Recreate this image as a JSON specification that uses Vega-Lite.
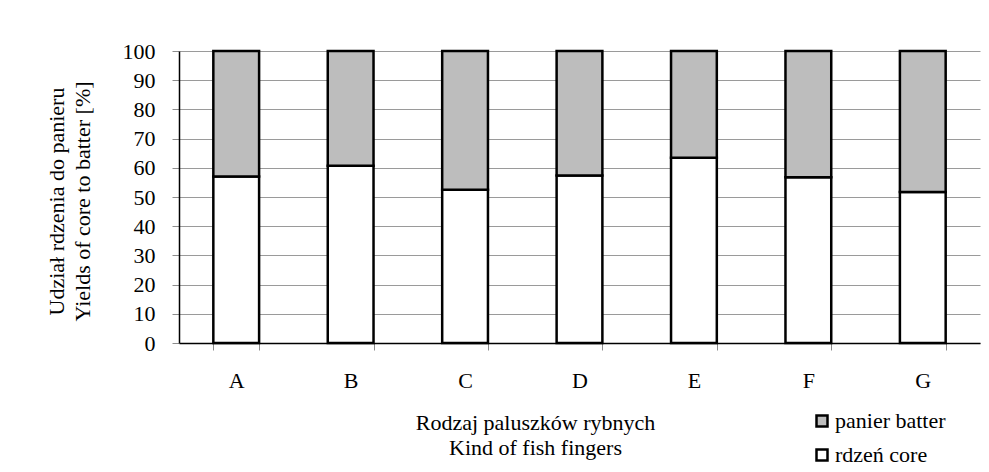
{
  "$schema": "https://vega.github.io/schema/vega-lite/v6.json",
  "width": 801,
  "height": 292,
  "autosize": {"type": "none"},
  "padding": {"left": 179, "top": 51, "right": 9, "bottom": 129},
  "background": "white",
  "data": {
    "values": [
      {"kind": "A", "part": "rdzeń core", "value": 57.0},
      {"kind": "A", "part": "panier batter", "value": 43.0},
      {"kind": "B", "part": "rdzeń core", "value": 60.7},
      {"kind": "B", "part": "panier batter", "value": 39.3},
      {"kind": "C", "part": "rdzeń core", "value": 52.5},
      {"kind": "C", "part": "panier batter", "value": 47.5},
      {"kind": "D", "part": "rdzeń core", "value": 57.4},
      {"kind": "D", "part": "panier batter", "value": 42.6},
      {"kind": "E", "part": "rdzeń core", "value": 63.4},
      {"kind": "E", "part": "panier batter", "value": 36.6},
      {"kind": "F", "part": "rdzeń core", "value": 56.8},
      {"kind": "F", "part": "panier batter", "value": 43.2},
      {"kind": "G", "part": "rdzeń core", "value": 51.7},
      {"kind": "G", "part": "panier batter", "value": 48.3}
    ]
  },
  "mark": {"type": "bar", "stroke": "black", "strokeWidth": 2.5},
  "encoding": {
    "x": {
      "field": "kind",
      "type": "nominal",
      "scale": {"paddingInner": 0.6, "paddingOuter": 0.3},
      "axis": {
        "title": ["Rodzaj paluszków rybnych", "Kind of fish fingers"],
        "labelAngle": 0,
        "tickBand": "extent",
        "tickColor": "#8c8c8c",
        "tickSize": 7,
        "domainColor": "black",
        "domainWidth": 1.5,
        "labelPadding": 20,
        "titleX": 356,
        "titleY": 86,
        "titleAnchor": "middle",
        "titleAlign": "center",
        "titleBaseline": "alphabetic",
        "titleLineHeight": 25
      }
    },
    "y": {
      "field": "value",
      "type": "quantitative",
      "stack": "zero",
      "scale": {"domain": [0, 100], "nice": false},
      "axis": {
        "title": ["Udział rdzenia do panieru", "Yields of core to batter [%]"],
        "values": [0, 10, 20, 30, 40, 50, 60, 70, 80, 90, 100],
        "grid": true,
        "gridColor": "#9a9a9a",
        "gridWidth": 1,
        "tickColor": "#8c8c8c",
        "tickSize": 7,
        "domainColor": "black",
        "domainWidth": 1.5,
        "labelPadding": 17,
        "titleX": -116,
        "titleY": 150,
        "titleAngle": -90,
        "titleAlign": "center",
        "titleBaseline": "alphabetic",
        "titleLineHeight": 26
      }
    },
    "color": {
      "field": "part",
      "type": "nominal",
      "scale": {"domain": ["panier batter", "rdzeń core"], "range": ["#bdbdbd", "#ffffff"]},
      "legend": {
        "title": null,
        "orient": "none",
        "legendX": 632,
        "legendY": 359,
        "symbolType": "square",
        "symbolSize": 121,
        "symbolStrokeColor": "black",
        "symbolStrokeWidth": 2.5,
        "labelOffset": 2,
        "rowPadding": 12
      }
    },
    "order": {"field": "part", "sort": "descending"}
  },
  "config": {
    "font": "'Liberation Serif'",
    "view": {"stroke": null},
    "axis": {
      "labelFont": "'Liberation Serif'",
      "labelFontSize": 22,
      "labelColor": "black",
      "titleFont": "'Liberation Serif'",
      "titleFontSize": 22,
      "titleFontWeight": "normal",
      "titleColor": "black"
    },
    "legend": {
      "labelFont": "'Liberation Serif'",
      "labelFontSize": 22,
      "labelColor": "black"
    }
  }
}
